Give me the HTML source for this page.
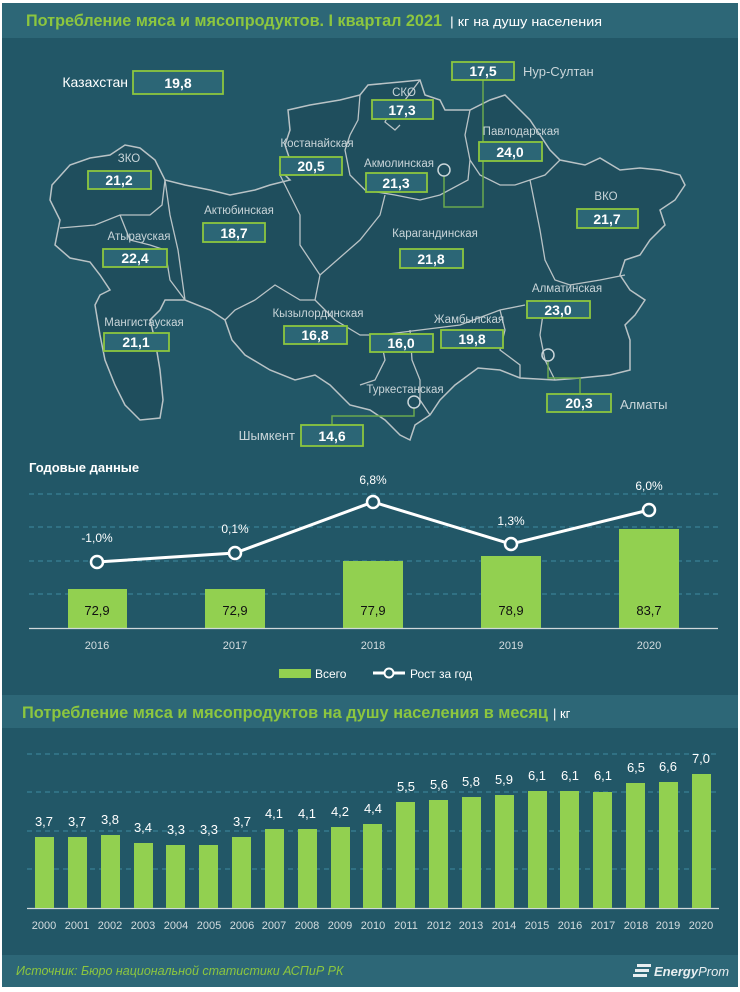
<!DOCTYPE html>
<html><head><meta charset="utf-8"><style>
html,body{margin:0;padding:0;background:#fff;}
svg{display:block;font-family:"Liberation Sans","DejaVu Sans",sans-serif;}
.lb{fill:#c9d5d9;font-size:11.5px;text-anchor:middle;}
.bx{fill:#2c6676;stroke:#8cc63f;stroke-width:1.8;}
.bv{fill:#fff;font-size:14px;font-weight:bold;text-anchor:middle;}
.yr{fill:#d5dde0;font-size:11px;text-anchor:middle;}
.bl{fill:#fff;font-size:12px;text-anchor:middle;}
.dk{fill:#111;font-size:13px;text-anchor:middle;}
.gr{stroke:#3f8ba0;stroke-width:1;stroke-dasharray:5,4;}
</style></head><body>
<svg width="740" height="992" viewBox="0 0 740 992">
<rect x="0" y="0" width="740" height="992" fill="#fff"/>
<rect x="2" y="3" width="736" height="984" fill="#225767"/>
<rect x="2" y="3" width="736" height="35" fill="#2d6777"/>
<text x="26" y="26" font-size="16.5" font-weight="bold" fill="#8cc63f" textLength="416" lengthAdjust="spacingAndGlyphs">Потребление мяса и мясопродуктов. I квартал 2021</text>
<text x="450" y="26" font-size="13" fill="#fff" textLength="152" lengthAdjust="spacingAndGlyphs">| кг на душу населения</text>

<!-- map -->
<polygon fill="#1f4e5d" stroke="#b9c3c6" stroke-width="1.5" points="52,185 70,165 90,158 110,155 125,145 140,148 155,160 165,180 185,185 210,190 230,195 255,190 270,185 290,180 280,170 290,160 285,145 290,130 288,110 310,105 340,100 360,95 368,85 400,82 420,80 425,95 440,100 445,110 470,110 490,100 505,95 515,105 530,120 540,135 550,150 560,160 585,165 600,158 620,170 640,168 660,170 680,175 685,185 675,200 660,210 665,225 650,240 640,255 625,260 620,275 630,290 645,300 635,315 625,325 630,340 630,370 610,375 580,378 555,380 520,378 500,370 478,368 455,385 440,400 430,415 415,425 410,440 400,435 385,420 370,410 350,405 330,385 315,375 295,380 270,370 245,355 232,340 225,320 210,310 185,300 165,300 160,310 150,320 155,340 160,370 163,400 160,418 140,420 125,405 115,385 105,360 100,335 95,305 100,295 110,290 100,275 90,262 70,258 55,245 60,220 50,200"/>
<g fill="none" stroke="#b9c3c6" stroke-width="1.3">
<polyline points="165,180 162,205 150,215 120,215 95,225 60,228"/>
<polyline points="165,180 170,215 178,250 185,300"/>
<polyline points="120,215 130,240 150,245 165,250 170,280 185,300"/>
<polyline points="280,175 300,215 300,245 320,275 315,300 300,300 275,285 255,300 235,310 225,320"/>
<polyline points="360,95 358,120 350,135 345,150 350,175 365,190 395,195 420,200 440,195 468,180 470,160 465,135 470,110"/>
<polyline points="420,80 405,100 390,112 385,122 395,130 400,125"/>
<polyline points="320,275 360,240 380,215 385,195"/>
<polyline points="315,300 335,320 360,335 380,335 420,330 460,325 500,310 525,305"/>
<polyline points="470,160 480,175 500,185 515,185 530,180 545,175 560,160"/>
<polyline points="530,180 535,205 540,230 545,260 555,280 570,285 600,280 625,275"/>
<polyline points="500,310 505,330 500,350 520,365 520,378"/>
<polyline points="380,335 385,360 375,380 360,385"/>
<polyline points="410,330 412,360 420,380 420,400 430,415"/>
<polyline points="555,380 545,360 540,335 545,300"/>
</g>
<g fill="none" stroke="#6aa84f" stroke-width="1.5">
<polyline points="444,176 444,207 483,207 483,80"/>
<polyline points="548,361 548,378 580,378 580,394"/>
<polyline points="414,408 414,416 332,416 332,425"/>
</g>
<g fill="none" stroke="#c9d5d9" stroke-width="1.5">
<circle cx="444" cy="170" r="6"/><circle cx="548" cy="355" r="6"/><circle cx="414" cy="402" r="6"/>
</g>
<text x="128" y="87" fill="#fff" font-size="14" text-anchor="end">Казахстан</text>
<rect class="bx" x="133" y="71" width="90" height="23"/><text class="bv" x="178" y="88">19,8</text>
<text class="lb" x="129" y="162">ЗКО</text><rect class="bx" x="88" y="171" width="63" height="18"/><text class="bv" x="119" y="185">21,2</text>
<text class="lb" x="317" y="147">Костанайская</text><rect class="bx" x="280" y="157" width="62" height="18"/><text class="bv" x="311" y="171">20,5</text>
<text class="lb" x="404" y="96">СКО</text><rect class="bx" x="372" y="100" width="61" height="19"/><text class="bv" x="402" y="115">17,3</text>
<rect class="bx" x="452" y="62" width="62" height="18"/><text class="bv" x="483" y="76">17,5</text>
<text x="523" y="76" fill="#c9d5d9" font-size="13">Нур-Султан</text>
<text class="lb" x="521" y="135">Павлодарская</text><rect class="bx" x="479" y="142" width="63" height="19"/><text class="bv" x="510" y="157">24,0</text>
<text class="lb" x="399" y="167">Акмолинская</text><rect class="bx" x="366" y="173" width="61" height="19"/><text class="bv" x="396" y="188">21,3</text>
<text class="lb" x="239" y="214">Актюбинская</text><rect class="bx" x="203" y="223" width="62" height="19"/><text class="bv" x="234" y="238">18,7</text>
<text class="lb" x="606" y="200">ВКО</text><rect class="bx" x="577" y="209" width="61" height="19"/><text class="bv" x="607" y="224">21,7</text>
<text class="lb" x="435" y="237">Карагандинская</text><rect class="bx" x="400" y="249" width="63" height="19"/><text class="bv" x="431" y="264">21,8</text>
<text class="lb" x="139" y="240">Атырауская</text><rect class="bx" x="103" y="249" width="64" height="18"/><text class="bv" x="135" y="263">22,4</text>
<text class="lb" x="144" y="326">Мангистауская</text><rect class="bx" x="104" y="333" width="65" height="18"/><text class="bv" x="136" y="347">21,1</text>
<text class="lb" x="318" y="317">Кызылординская</text><rect class="bx" x="284" y="326" width="63" height="18"/><text class="bv" x="315" y="340">16,8</text>
<rect class="bx" x="370" y="334" width="63" height="18"/><text class="bv" x="401" y="348">16,0</text>
<text class="lb" x="469" y="323">Жамбылская</text><rect class="bx" x="441" y="330" width="62" height="18"/><text class="bv" x="472" y="344">19,8</text>
<text class="lb" x="567" y="292">Алматинская</text><rect class="bx" x="527" y="301" width="63" height="17"/><text class="bv" x="558" y="315">23,0</text>
<rect class="bx" x="547" y="394" width="64" height="18"/><text class="bv" x="579" y="408">20,3</text>
<text x="620" y="409" fill="#c9d5d9" font-size="13">Алматы</text>
<text class="lb" x="405" y="393">Туркестанская</text>
<rect class="bx" x="301" y="425" width="62" height="21"/><text class="bv" x="332" y="441">14,6</text>
<text x="295" y="440" fill="#c9d5d9" font-size="13" text-anchor="end">Шымкент</text>

<!-- annual chart -->
<text x="29" y="472" fill="#fff" font-size="13" font-weight="bold">Годовые данные</text>
<line class="gr" x1="29" y1="494" x2="718" y2="494"/><line class="gr" x1="29" y1="527" x2="718" y2="527"/>
<line class="gr" x1="29" y1="561" x2="718" y2="561"/><line class="gr" x1="29" y1="594" x2="718" y2="594"/>
<g fill="#92d050">
<rect x="68" y="589" width="59" height="39"/><rect x="205" y="589" width="60" height="39"/>
<rect x="343" y="561" width="60" height="67"/><rect x="481" y="556" width="60" height="72"/>
<rect x="619" y="529" width="60" height="99"/>
</g>
<line x1="29" y1="628.5" x2="718" y2="628.5" stroke="#d0d8da" stroke-width="1.2"/>
<text class="dk" x="97" y="615">72,9</text><text class="dk" x="235" y="615">72,9</text><text class="dk" x="373" y="615">77,9</text><text class="dk" x="511" y="615">78,9</text><text class="dk" x="649" y="615">83,7</text>
<polyline points="97,562 235,553 373,502 511,544 649,510" fill="none" stroke="#fff" stroke-width="3"/>
<g fill="#225767" stroke="#fff" stroke-width="2.5">
<circle cx="97" cy="562" r="6"/><circle cx="235" cy="553" r="6"/><circle cx="373" cy="502" r="6"/><circle cx="511" cy="544" r="6"/><circle cx="649" cy="510" r="6"/>
</g>
<text class="bl" x="97" y="542">-1,0%</text><text class="bl" x="235" y="533">0,1%</text><text class="bl" x="373" y="484">6,8%</text><text class="bl" x="511" y="525">1,3%</text><text class="bl" x="649" y="490">6,0%</text>
<text class="yr" x="97" y="649">2016</text><text class="yr" x="235" y="649">2017</text><text class="yr" x="373" y="649">2018</text><text class="yr" x="511" y="649">2019</text><text class="yr" x="649" y="649">2020</text>
<rect x="279" y="669" width="32" height="9" fill="#92d050"/>
<text x="315" y="678" fill="#fff" font-size="12">Всего</text>
<line x1="373" y1="673" x2="405" y2="673" stroke="#fff" stroke-width="3"/>
<circle cx="389" cy="673" r="4.5" fill="#225767" stroke="#fff" stroke-width="2"/>
<text x="410" y="678" fill="#fff" font-size="12">Рост за год</text>

<!-- monthly chart -->
<rect x="2" y="695" width="736" height="33" fill="#2d6777"/>
<text x="22" y="718" font-size="16.5" font-weight="bold" fill="#8cc63f" textLength="526" lengthAdjust="spacingAndGlyphs">Потребление мяса и мясопродуктов на душу населения в месяц</text>
<text x="553" y="718" font-size="13" fill="#fff">| кг</text>
<line class="gr" x1="27" y1="754" x2="719" y2="754"/><line class="gr" x1="27" y1="792" x2="719" y2="792"/>
<line class="gr" x1="27" y1="831" x2="719" y2="831"/><line class="gr" x1="27" y1="869" x2="719" y2="869"/>
<line x1="27" y1="908.5" x2="719" y2="908.5" stroke="#d0d8da" stroke-width="1.2"/>
<g fill="#92d050">
<rect x="35" y="837" width="19" height="71"/><rect x="68" y="837" width="19" height="71"/><rect x="101" y="835" width="19" height="73"/><rect x="134" y="843" width="19" height="65"/><rect x="166" y="845" width="19" height="63"/><rect x="199" y="845" width="19" height="63"/><rect x="232" y="837" width="19" height="71"/><rect x="265" y="829" width="19" height="79"/><rect x="298" y="829" width="19" height="79"/><rect x="331" y="827" width="19" height="81"/><rect x="363" y="824" width="19" height="84"/><rect x="396" y="802" width="19" height="106"/><rect x="429" y="800" width="19" height="108"/><rect x="462" y="797" width="19" height="111"/><rect x="495" y="795" width="19" height="113"/><rect x="528" y="791" width="19" height="117"/><rect x="560" y="791" width="19" height="117"/><rect x="593" y="792" width="19" height="116"/><rect x="626" y="783" width="19" height="125"/><rect x="659" y="782" width="19" height="126"/><rect x="692" y="774" width="19" height="134"/>
</g>
<g font-size="13" fill="#fff" text-anchor="middle">
<text x="44" y="826">3,7</text><text x="77" y="826">3,7</text><text x="110" y="824">3,8</text><text x="143" y="832">3,4</text><text x="176" y="834">3,3</text><text x="209" y="834">3,3</text><text x="242" y="826">3,7</text><text x="274" y="818">4,1</text><text x="307" y="818">4,1</text><text x="340" y="816">4,2</text><text x="373" y="813">4,4</text><text x="406" y="791">5,5</text><text x="439" y="789">5,6</text><text x="471" y="786">5,8</text><text x="504" y="784">5,9</text><text x="537" y="780">6,1</text><text x="570" y="780">6,1</text><text x="603" y="780">6,1</text><text x="636" y="772">6,5</text><text x="668" y="771">6,6</text><text x="701" y="763">7,0</text>
</g>
<g font-size="11" fill="#d5dde0" text-anchor="middle">
<text x="44" y="929">2000</text><text x="77" y="929">2001</text><text x="110" y="929">2002</text><text x="143" y="929">2003</text><text x="176" y="929">2004</text><text x="209" y="929">2005</text><text x="242" y="929">2006</text><text x="274" y="929">2007</text><text x="307" y="929">2008</text><text x="340" y="929">2009</text><text x="373" y="929">2010</text><text x="406" y="929">2011</text><text x="439" y="929">2012</text><text x="471" y="929">2013</text><text x="504" y="929">2014</text><text x="537" y="929">2015</text><text x="570" y="929">2016</text><text x="603" y="929">2017</text><text x="636" y="929">2018</text><text x="668" y="929">2019</text><text x="701" y="929">2020</text>
</g>
<rect x="2" y="955" width="736" height="32" fill="#2d6777"/>
<text x="16" y="975" font-size="12.5" font-style="italic" fill="#8cc63f">Источник: Бюро национальной статистики АСПиР РК</text>
<g fill="#e8eef0"><rect x="637" y="964" width="14" height="3"/><rect x="635" y="969" width="14" height="3"/><rect x="633" y="974" width="14" height="3"/></g>
<text x="654" y="976" font-size="13" font-style="italic" font-weight="bold" fill="#e8eef0">Energy<tspan font-weight="normal">Prom</tspan></text>
</svg>
</body></html>
